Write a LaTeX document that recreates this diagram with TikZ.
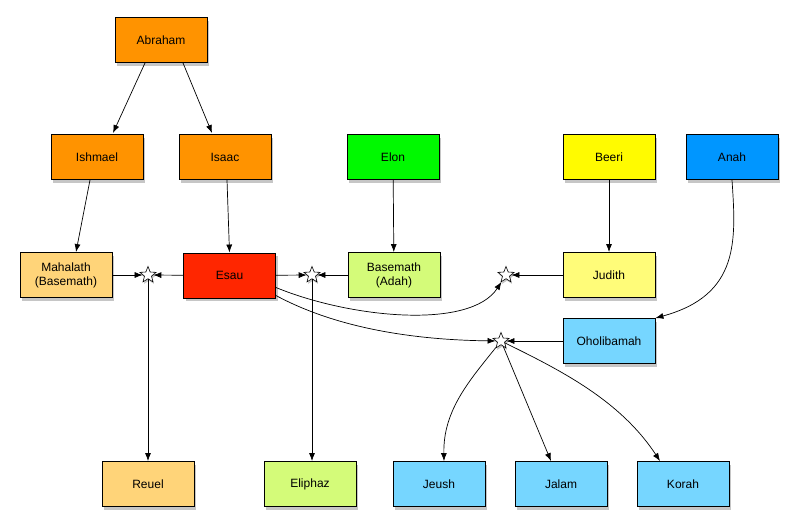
\documentclass[tikz,border=0pt]{standalone}
\usepackage{fontspec}
\setmainfont{Liberation Sans}
\usetikzlibrary{shapes.geometric,shadows,arrows.meta}
\definecolor{cOrange}{HTML}{FF9300}
\definecolor{cRed}{HTML}{FF2600}
\definecolor{cGreen}{HTML}{00F900}
\definecolor{cYellow}{HTML}{FFFB00}
\definecolor{cBlue}{HTML}{0096FF}
\definecolor{cLOrange}{HTML}{FFD479}
\definecolor{cLGreen}{HTML}{D4FB79}
\definecolor{cLYellow}{HTML}{FFFC79}
\definecolor{cLBlue}{HTML}{76D6FF}
\begin{document}
\begin{tikzpicture}[x=1pt,y=-1pt,
  person/.style={draw=black, line width=0.9pt, minimum width=92pt, minimum height=45pt,
    inner sep=2pt, align=center, font=\fontsize{12}{14}\selectfont,
    drop shadow={opacity=0.45, shadow xshift=2pt, shadow yshift=-3pt}},
  union/.style={star, star points=5, star point ratio=2.3, minimum size=17pt, inner sep=0pt,
    draw=black, line width=0.6pt, fill=white,
    drop shadow={opacity=0.45, shadow xshift=1pt, shadow yshift=-2pt}},
  link/.style={draw=black, line width=0.7pt, -{Latex[length=8pt,width=6pt]}}]
\useasboundingbox (0,0) rectangle (800,530);
% persons
\node[person, fill=cOrange] (abraham) at (161,40) {Abraham};
\node[person, fill=cOrange] (ishmael) at (97,157) {Ishmael};
\node[person, fill=cOrange] (isaac) at (225,157) {Isaac};
\node[person, fill=cGreen] (elon) at (393,157) {Elon};
\node[person, fill=cYellow] (beeri) at (609,157) {Beeri};
\node[person, fill=cBlue] (anah) at (732,157) {Anah};
\node[person, fill=cLOrange] (mahalath) at (66,275) {Mahalath\\(Basemath)};
\node[person, fill=cRed] (esau) at (229.5,275.5) {Esau};
\node[person, fill=cLGreen] (basemath) at (394,275) {Basemath\\(Adah)};
\node[person, fill=cLYellow] (judith) at (609,275) {Judith};
\node[person, fill=cLBlue] (oholibamah) at (609,341) {Oholibamah};
\node[person, fill=cLOrange] (reuel) at (148,484) {Reuel};
\node[person, fill=cLGreen] (eliphaz) at (310,484) {Eliphaz};
\node[person, fill=cLBlue] (jeush) at (439,484) {Jeush};
\node[person, fill=cLBlue] (jalam) at (561,484) {Jalam};
\node[person, fill=cLBlue] (korah) at (683,484) {Korah};
% unions
\node[union] (u1) at (148,275) {};
\node[union] (u2) at (312,275) {};
\node[union] (u3) at (506,275) {};
\node[union] (u4) at (501,341) {};
% parent links
\draw[link] (abraham.south) ++(-16,0) coordinate (a1) -- (113,133);
\draw[link] (abraham.south) ++(22,0) coordinate (a2) -- (212,133);
\draw[link] (ishmael.south) ++(-7,0) coordinate (i1) -- (mahalath.north -| 76,0);
\draw[link] (isaac.south) ++(2,0) coordinate (i2) -- (esau.north);
\draw[link] (elon) -- (basemath);
\draw[link] (beeri) -- (judith);
\draw[link] (anah.south) .. controls (736,240) and (740,295) .. (oholibamah.north east);
% marriage links
\draw[link] (mahalath) -- (u1);
\draw[link] (esau) -- (u1);
\draw[link] (esau) -- (u2);
\draw[link] (basemath) -- (u2);
\draw[link] (judith) -- (u3);
\draw[link] (oholibamah) -- (u4);
\draw[link] (esau.east) ++(0,12) coordinate (e1) .. controls (350,318) and (470,330) .. (u3);
\draw[link] (esau.east) ++(0,20) coordinate (e2) .. controls (340,330) and (420,340) .. (u4);
% children links
\draw[link] (u1) -- (reuel);
\draw[link] (u2) -- (eliphaz.north -| u2);
\draw[link] (u4) .. controls (470,380) and (443,410) .. (jeush.north -| 444,0);
\draw[link] (u4) -- (jalam.north -| 551,0);
\draw[link] (u4) .. controls (560,370) and (620,400) .. (jeush.north -| 660,0);
\end{tikzpicture}
\end{document}
